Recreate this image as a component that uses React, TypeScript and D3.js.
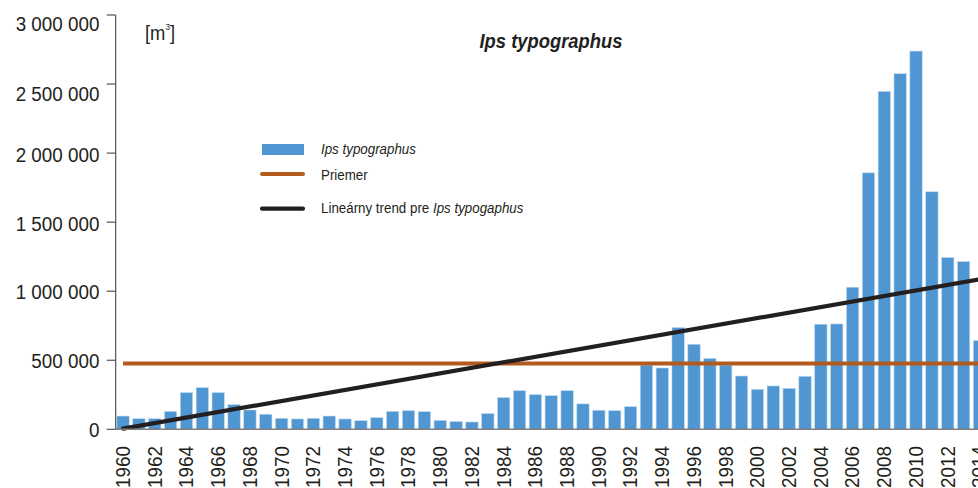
import React from "react";
import * as d3 from "d3";

const W = 978;
const H = 488;

const years: number[] = d3.range(1960, 2015);
const volumes: number[] = [
  96000, 77000, 77000, 130000, 266000, 302000, 266000, 179000, 140000, 109000,
  80000, 75000, 80000, 96000, 75000, 63000, 85000, 130000, 135000, 128000,
  65000, 56000, 53000, 114000, 230000, 280000, 251000, 244000, 280000, 184000,
  138000, 135000, 164000, 465000, 444000, 737000, 616000, 514000, 465000, 386000,
  290000, 314000, 297000, 384000, 761000, 763000, 1029000, 1857000, 2447000, 2575000,
  2739000, 1720000, 1244000, 1215000, 643000,
];
const averageValue = 476000;
const trendYears: number[] = [1960, 2014];
const trendValues: number[] = [5000, 1085000];
const yTicks: number[] = [0, 500000, 1000000, 1500000, 2000000, 2500000, 3000000];
const yTickLabels: string[] = ["0", "500 000", "1 000 000", "1 500 000", "2 000 000", "2 500 000", "3 000 000"];
const xTickYears: number[] = years.filter((y) => y % 2 === 0);

const title = "Ips typographus";
const unitLabel = "[m";
const legendBars = "Ips typographus";
const legendMean = "Priemer";
const legendTrendPrefix = "Lineárny trend pre ";
const legendTrendItalic = "Ips typogaphus";

const BLUE = "#4f96d2";
const ORANGE = "#b35a1e";
const BLACK = "#231f20";
const TEXT = "#231f20";
const FONT = "'Liberation Sans', Arial, sans-serif";
const CONDENSE = 0.92;

// small label nudges as they appear in the original layout
const labelNudge: Record<number, number> = { 3000000: 9, 2500000: 10, 2000000: 2, 1500000: 1.5 };

export default function App() {
  const x = d3
    .scaleBand<number>()
    .domain(years)
    .range([115.1, 987.4])
    .paddingInner(0.22)
    .paddingOuter(0.11);
  const y = d3.scaleLinear().domain([0, 3000000]).range([429.3, 15]);
  const cx = (yr: number) => (x(yr) as number) + x.bandwidth() / 2;

  const slope = (trendValues[1] - trendValues[0]) / (cx(trendYears[1]) - cx(trendYears[0]));
  const trendEndX = W + 10;
  const trendEndV = trendValues[0] + slope * (trendEndX - cx(trendYears[0]));
  const trendPath = d3.line<[number, number]>()
    .x((d) => d[0])
    .y((d) => y(d[1]))([
      [cx(trendYears[0]), trendValues[0]],
      [trendEndX, trendEndV],
    ]);

  const axisX = 115.7;

  return (
    <svg
      width={W}
      height={H}
      style={{ position: "absolute", left: 0, top: 0, background: "#fff" }}
      fontFamily={FONT}
    >
      {/* bars */}
      {years.map((yr, i) => (
        <rect
          key={yr}
          x={x(yr)}
          y={y(volumes[i])}
          width={x.bandwidth()}
          height={y(0) - y(volumes[i])}
          fill={BLUE}
          stroke="#c3dcf1"
          strokeWidth={0.6}
        />
      ))}

      {/* average line */}
      <line
        x1={cx(years[0])}
        x2={W + 5}
        y1={y(averageValue)}
        y2={y(averageValue)}
        stroke={ORANGE}
        strokeWidth={4}
      />

      {/* trend line */}
      <path d={trendPath ?? ""} fill="none" stroke={BLACK} strokeWidth={4.2} strokeLinecap="round" />

      {/* x axis baseline */}
      <line x1={axisX} x2={W} y1={y(0)} y2={y(0)} stroke="#7f7f7f" strokeWidth={1.5} />

      {/* y axis */}
      <line x1={axisX} x2={axisX} y1={y(3000000)} y2={y(0)} stroke="#444" strokeWidth={1.1} />
      {yTicks.map((t, i) => (
        <g key={t}>
          <line x1={axisX - 9} x2={axisX} y1={y(t)} y2={y(t)} stroke="#444" strokeWidth={1.1} />
          <text
            transform={`translate(99.5,${y(t) + (labelNudge[t] ?? 0)}) scale(${CONDENSE},1)`}
            dy="0.36em"
            textAnchor="end"
            fontSize={20.5}
            fill={TEXT}
          >
            {yTickLabels[i]}
          </text>
        </g>
      ))}

      {/* x tick labels */}
      {xTickYears.map((yr) => (
        <text
          key={yr}
          transform={`translate(${cx(yr) - 0.5},446) rotate(-90) scale(${CONDENSE},1)`}
          dy="0.36em"
          textAnchor="end"
          fontSize={20.5}
          fill={TEXT}
        >
          {yr}
        </text>
      ))}

      {/* unit label */}
      <text transform={`translate(145,40) scale(${CONDENSE},1)`} fontSize={20} fill={TEXT}>
        {unitLabel}
        <tspan fontSize={9} dy={-10}>3</tspan>
        <tspan dy={10}>]</tspan>
      </text>

      {/* title */}
      <text
        transform={`translate(551,48) scale(${CONDENSE},1)`}
        textAnchor="middle"
        fontSize={20}
        fontWeight="bold"
        fontStyle="italic"
        fill={TEXT}
      >
        {title}
      </text>

      {/* legend */}
      <rect x={262} y={144} width={42} height={11} fill={BLUE} />
      <text transform={`translate(321,154) scale(0.89,1)`} fontSize={15} fontStyle="italic" fill={TEXT}>
        {legendBars}
      </text>
      <line x1={262} x2={303} y1={174} y2={174} stroke={ORANGE} strokeWidth={4} strokeLinecap="round" />
      <text transform={`translate(321,180) scale(0.89,1)`} fontSize={15} fill={TEXT}>
        {legendMean}
      </text>
      <line x1={262} x2={303} y1={208.7} y2={208.7} stroke={BLACK} strokeWidth={4.2} strokeLinecap="round" />
      <text transform={`translate(321,213) scale(0.89,1)`} fontSize={15} fill={TEXT}>
        {legendTrendPrefix}
        <tspan fontStyle="italic">{legendTrendItalic}</tspan>
      </text>
    </svg>
  );
}
